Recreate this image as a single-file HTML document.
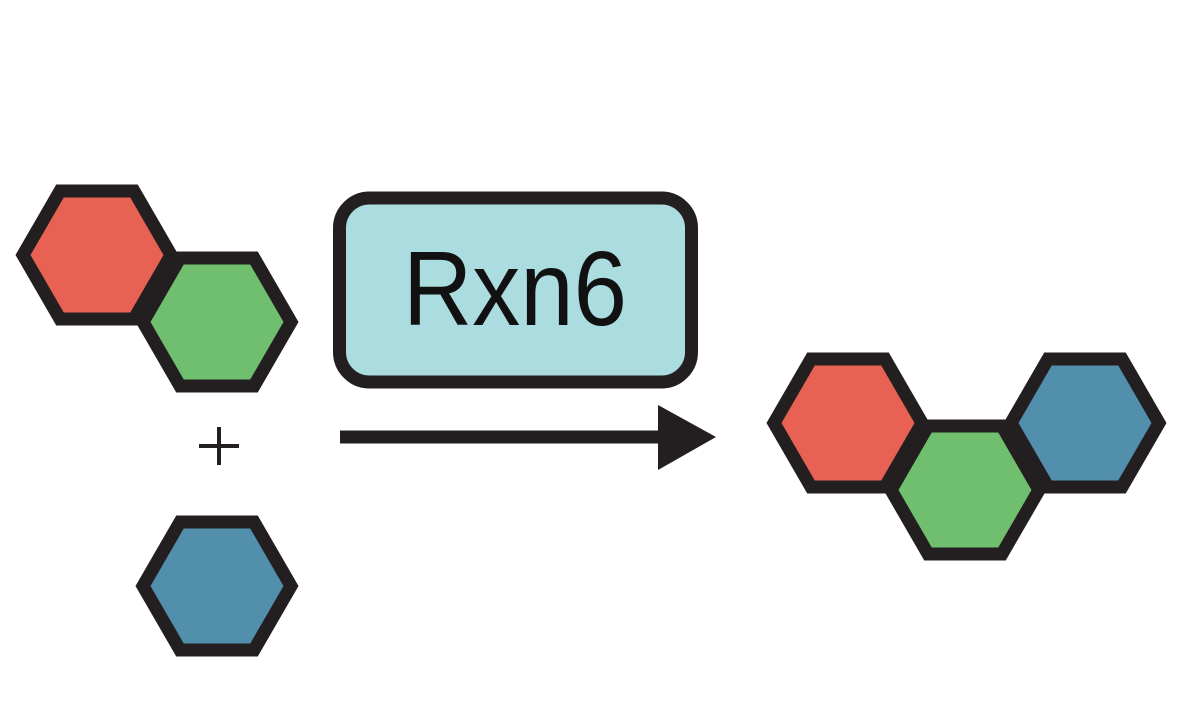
<!DOCTYPE html>
<html><head><meta charset="utf-8"><style>html,body{margin:0;padding:0;background:#fff}svg{display:block}</style></head>
<body>
<svg width="1190" height="718" viewBox="0 0 1190 718" xmlns="http://www.w3.org/2000/svg">
<defs>
<polygon id="hx" points="-74,0 -37,-64 37,-64 74,0 37,64 -37,64"/>
</defs>
<g stroke="#231f20" stroke-width="13" stroke-linejoin="miter">
<use href="#hx" x="97" y="255" fill="#e86253"/>
<use href="#hx" x="217" y="322" fill="#6fbf6e"/>
<use href="#hx" x="217" y="586" fill="#518fad"/>
<use href="#hx" x="848" y="423" fill="#e86253"/>
<use href="#hx" x="1085" y="423" fill="#518fad"/>
<use href="#hx" x="965" y="490" fill="#6fbf6e"/>
</g>
<g stroke="#231f20" stroke-width="4">
<line x1="199" y1="446" x2="239" y2="446"/>
<line x1="219" y1="427" x2="219" y2="465"/>
</g>
<rect x="339.5" y="198" width="352" height="184" rx="30" fill="#aadce0" stroke="#231f20" stroke-width="13"/>
<text x="515" y="325" font-family="Liberation Sans, sans-serif" font-size="106" text-anchor="middle" textLength="224" lengthAdjust="spacingAndGlyphs" fill="#111">Rxn6</text>
<line x1="340" y1="437" x2="665" y2="437" stroke="#231f20" stroke-width="13"/>
<polygon points="658,405 716,437 658,470" fill="#231f20"/>
</svg>
</body></html>
